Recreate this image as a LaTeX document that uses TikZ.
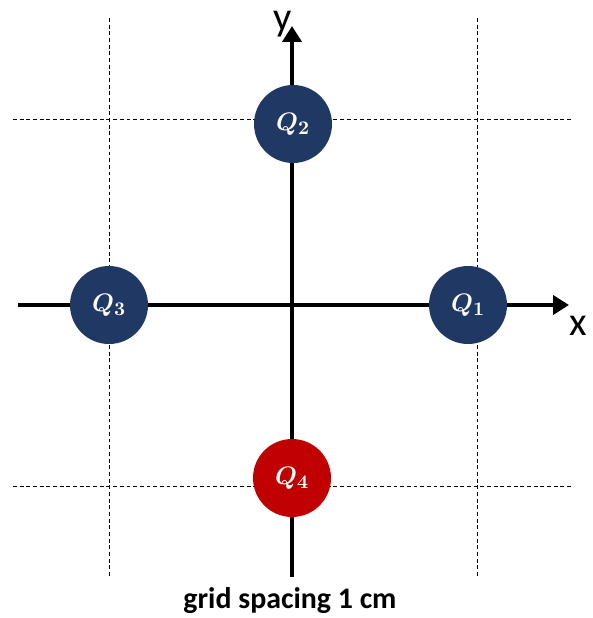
\documentclass[tikz,border=0pt]{standalone}
\usepackage{fontspec}
\setmainfont{Carlito}
\usepackage{amsmath}
\usepackage{bm}
\usetikzlibrary{arrows.meta}
\definecolor{chargeblue}{HTML}{203864}
\definecolor{chargered}{HTML}{C00000}
\begin{document}
\begin{tikzpicture}[x=0.02cm,y=-0.02cm,
  gridline/.style={black,dashed,line width=0.5pt,dash pattern=on 2.2pt off 1.6pt},
  axis/.style={black,line width=2.3pt,-{Triangle[length=0.32cm,width=0.38cm]}},
  charge/.style={circle,minimum size=1.56cm,inner sep=0pt,text=white,
    font=\boldmath\fontsize{15}{15}\selectfont},
  axislabel/.style={inner sep=0pt,anchor=base,font=\fontsize{23}{23}\selectfont}]
  \useasboundingbox (0,0) rectangle (592,618);
  % grid
  \draw[gridline] (109, 18) -- (109,577);
  \draw[gridline] (477, 18) -- (477,577);
  \draw[gridline] ( 13,119) -- (573,119);
  \draw[gridline] ( 13,486) -- (573,486);
  % axes
  \coordinate (xstart) at ( 18,305);
  \coordinate (xend)   at (569,305);
  \coordinate (ystart) at (292,577);
  \coordinate (yend)   at (292, 26);
  \draw[axis] (xstart) -- (xend);
  \draw[axis] (ystart) -- (yend);
  \node[axislabel] (xlabel) at (578,335) {x};
  \node[axislabel] (ylabel) at (283, 31) {y};
  % charges
  \node[charge,fill=chargeblue] (q1) at (468,305) {$\bm{Q_1}$};
  \node[charge,fill=chargeblue] (q2) at (293,124) {$\bm{Q_2}$};
  \node[charge,fill=chargeblue] (q3) at (109,305) {$\bm{Q_3}$};
  \node[charge,fill=chargered]  (q4) at (292,478) {$\bm{Q_4}$};
  \node[font=\bfseries\fontsize{17}{17}\selectfont] (caption) at (290,601)
    {grid spacing 1 cm};
\end{tikzpicture}
\end{document}
